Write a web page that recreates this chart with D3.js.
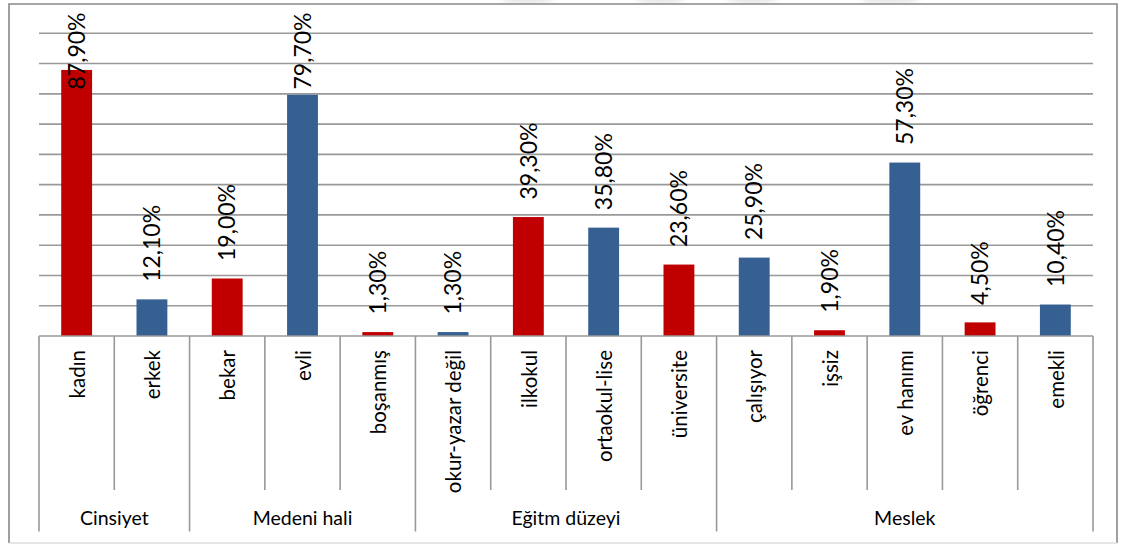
<!DOCTYPE html>
<html>
<head>
<meta charset="utf-8">
<script src="https://cdn.jsdelivr.net/npm/d3@7"></script>
<style>
  html, body { margin: 0; padding: 0; background: #ffffff; }
  svg { display: block; }
  text { font-family: Lato, "Open Sans", sans-serif; fill: #000; }
</style>
</head>
<body>
<svg id="chart" width="1125" height="545"></svg>
<script>
// Survey profile: share of respondents per answer, grouped by question
const categories = ["kadın", "erkek", "bekar", "evli", "boşanmış",
  "okur-yazar değil", "ilkokul", "ortaokul-lise", "üniversite",
  "çalışıyor", "işsiz", "ev hanımı", "öğrenci", "emekli"];
const values = [0.879, 0.121, 0.190, 0.797, 0.013,
  0.013, 0.393, 0.358, 0.236,
  0.259, 0.019, 0.573, 0.045, 0.104];
const valueLabels = ["87,90%", "12,10%", "19,00%", "79,70%", "1,30%",
  "1,30%", "39,30%", "35,80%", "23,60%",
  "25,90%", "1,90%", "57,30%", "4,50%", "10,40%"];
const groups = ["Cinsiyet", "Medeni hali", "Eğitm düzeyi", "Meslek"];
const groupSizes = [2, 3, 4, 5];
const gridTicks = [0.1, 0.2, 0.3, 0.4, 0.5, 0.6, 0.7, 0.8, 0.9, 1.0];

const RED = "#C00000", BLUE = "#376092", GRID = "#999999";

const svg = d3.select("#chart");

// faint shapes peeking over the top edge
const defs = svg.append("defs");
defs.append("filter").attr("id", "soft").append("feGaussianBlur").attr("stdDeviation", 3);
const blobs = svg.append("g").attr("filter", "url(#soft)").attr("fill", "#e6e6e6");
[[527, 26], [660, 24], [752, 25], [890, 30]].forEach(([cx, rx]) => {
  blobs.append("ellipse").attr("cx", cx).attr("cy", -2).attr("rx", rx).attr("ry", 6);
});

// outer frame
const frame = { l: 9, t: 4, r: 1117, b: 543 };
svg.append("rect").attr("x", 0).attr("y", frame.t).attr("width", 1125).attr("height", 545 - frame.t).attr("fill", "#fff");
svg.append("path").attr("d", `M${frame.l},${frame.b}V${frame.t}H${frame.r}V${frame.b}`)
  .attr("fill", "none").attr("stroke", "#888").attr("stroke-width", 1.6);
svg.append("line").attr("x1", frame.l).attr("x2", frame.r).attr("y1", frame.b).attr("y2", frame.b)
  .attr("stroke", "#dedede").attr("stroke-width", 1.5);

const plot = { l: 39, r: 1093, t: 33.3, b: 336 };

const x = d3.scaleBand().domain(categories).range([plot.l, plot.r]).padding(0);
const y = d3.scaleLinear().domain([0, 1]).range([plot.b, plot.t]);

// horizontal gridlines
svg.append("g").selectAll("line").data(gridTicks).join("line")
  .attr("x1", plot.l).attr("x2", plot.r)
  .attr("y1", d => y(d)).attr("y2", d => y(d))
  .attr("stroke", GRID).attr("stroke-width", 1.6);

// bars
const barW = x.bandwidth() * 0.41;
svg.append("g").selectAll("rect").data(categories).join("rect")
  .attr("x", d => x(d) + (x.bandwidth() - barW) / 2)
  .attr("y", (d, i) => y(values[i]))
  .attr("width", barW)
  .attr("height", (d, i) => plot.b - y(values[i]))
  .attr("fill", (d, i) => i % 2 === 0 ? RED : BLUE);

// rotated value labels above the bars, held inside the plot top
const vl = svg.append("g");
categories.forEach((c, i) => {
  const cx = x(c) + x.bandwidth() / 2;
  const t = vl.append("text")
    .attr("font-size", 23)
    .attr("text-anchor", "start")
    .attr("dy", "0.36em")
    .text(valueLabels[i]);
  const len = t.node().getComputedTextLength();
  let start = y(values[i]) - 17.5;
  if (start - len < 12.5) start = 12.5 + len;
  t.attr("transform", `translate(${cx},${start}) rotate(-90)`);
});

// category axis baseline
svg.append("line").attr("x1", plot.l).attr("x2", plot.r)
  .attr("y1", plot.b).attr("y2", plot.b)
  .attr("stroke", GRID).attr("stroke-width", 1.6);

// dividers between categories; longer ones between groups
const bounds = [0];
groupSizes.reduce((acc, n) => { bounds.push(acc + n); return acc + n; }, 0);
const edges = d3.range(categories.length + 1);
const step = x.step();
svg.append("g").selectAll("line").data(edges).join("line")
  .attr("x1", k => plot.l + k * step).attr("x2", k => plot.l + k * step)
  .attr("y1", plot.b)
  .attr("y2", k => bounds.includes(k) ? 531.5 : 490)
  .attr("stroke", GRID).attr("stroke-width", 1.6);

// category labels, reading bottom-to-top
svg.append("g").selectAll("text").data(categories).join("text")
  .attr("font-size", 20.5)
  .attr("text-anchor", "end")
  .attr("dy", "0.4em")
  .attr("transform", d => `translate(${x(d) + x.bandwidth() / 2},350) rotate(-90)`)
  .text(d => d);

// group labels, centred under their categories
function groupCenter(i) {
  return plot.l + step * (bounds[i] + bounds[i + 1]) / 2;
}
svg.append("g").selectAll("text").data(groups).join("text")
  .attr("font-size", 19.5)
  .attr("text-anchor", "middle")
  .attr("x", (g, i) => groupCenter(i))
  .attr("y", 525)
  .text(g => g);
</script>
</body>
</html>
